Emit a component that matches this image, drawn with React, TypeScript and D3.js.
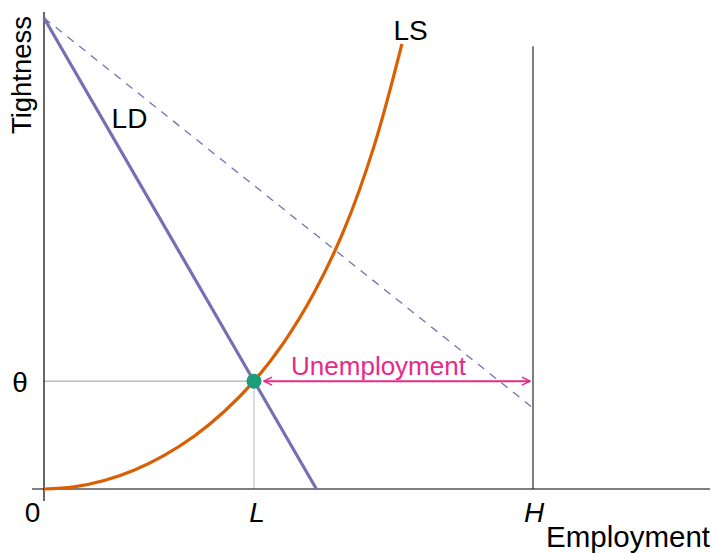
import React from "react";
import * as d3 from "d3";

// Employment axis: 0 .. H=100 ; Tightness axis: 0 .. 1
const H_VALUE = 100;
const L_VALUE = 42.94;
const THETA = 0.229;
const LD_LINE: [number, number][] = [[0, 1], [55.7, 0]];
const LD_DASHED: [number, number][] = [[0, 1], [100, 0.172]];
const LS_CURVE: [number, number][] = [
  [0, 0], [6.1, 0.0045], [12.3, 0.018], [18.4, 0.04], [24.5, 0.071],
  [30.7, 0.112], [36.8, 0.164], [42.94, 0.229], [49.1, 0.312],
  [55.2, 0.416], [61.4, 0.551], [67.5, 0.728], [73.2, 0.945],
];
const X_TICKS = [
  { v: 0, label: "0", italic: false, dx: -11.5 },
  { v: L_VALUE, label: "L", italic: true, dx: 3 },
  { v: H_VALUE, label: "H", italic: true, dx: 1 },
];

const W = 713;
const HGT = 553;
const FONT = "'Liberation Sans', Arial, Helvetica, sans-serif";

export default function App() {
  const x = d3.scaleLinear().domain([0, 100]).range([44, 533]);
  const y = d3.scaleLinear().domain([0, 1]).range([489, 18]);
  const line = d3.line<[number, number]>().x((d) => x(d[0])).y((d) => y(d[1]));
  const lsLine = d3
    .line<[number, number]>()
    .x((d) => x(d[0]))
    .y((d) => y(d[1]))
    .curve(d3.curveCatmullRom);

  const purple = "#7570b3";
  const orange = "#d95f02";
  const green = "#1b9e77";
  const pink = "#e7298a";

  return (
    <svg
      width={W}
      height={HGT}
      style={{ position: "absolute", left: 0, top: 0, background: "#fff" }}
      fontFamily={FONT}
    >
      <defs>
        <marker
          id="arr"
          viewBox="0 0 10 10"
          refX="9"
          refY="5"
          markerWidth="5"
          markerHeight="5"
          orient="auto-start-reverse"
          markerUnits="strokeWidth"
        >
          <path d="M1,1 L9,5 L1,9" fill="none" stroke={pink} strokeWidth={1.6} />
        </marker>
      </defs>

      {/* guide lines */}
      <line x1={x(0)} x2={x(L_VALUE)} y1={y(THETA)} y2={y(THETA)} stroke="#9a9a9a" strokeWidth={1} />
      <line x1={x(L_VALUE)} x2={x(L_VALUE)} y1={y(THETA)} y2={y(0)} stroke="#bbb" strokeWidth={1} />

      {/* H line */}
      <line x1={x(H_VALUE)} x2={x(H_VALUE)} y1={y(0.94)} y2={y(0)} stroke="#000" strokeWidth={1} />

      {/* axes */}
      <line x1={32} x2={710} y1={y(0)} y2={y(0)} stroke="#000" strokeWidth={1.2} />
      <line x1={x(0)} x2={x(0)} y1={12} y2={501} stroke="#000" strokeWidth={1.2} />

      {/* dashed LD */}
      <path d={line(LD_DASHED) || ""} fill="none" stroke={purple} strokeWidth={1.3} strokeDasharray="8,7" />
      {/* LD */}
      <path d={line(LD_LINE) || ""} fill="none" stroke={purple} strokeWidth={3.2} />
      {/* LS */}
      <path d={lsLine(LS_CURVE) || ""} fill="none" stroke={orange} strokeWidth={3.2} />

      {/* Unemployment arrow */}
      <line
        x1={x(L_VALUE) + 10}
        x2={x(H_VALUE) - 3}
        y1={y(THETA)}
        y2={y(THETA)}
        stroke={pink}
        strokeWidth={2}
        markerStart="url(#arr)"
        markerEnd="url(#arr)"
      />
      <text x={378.5} y={375} fill={pink} fontSize={26} textAnchor="middle">Unemployment</text>

      {/* equilibrium point */}
      <circle cx={x(L_VALUE)} cy={y(THETA)} r={7.5} fill={green} />

      {/* labels */}
      <text x={410.5} y={40} fontSize={28} textAnchor="middle" fill="#000">LS</text>
      <text x={129.5} y={128} fontSize={28} textAnchor="middle" fill="#000">LD</text>
      <text x={20} y={392} fontSize={28} textAnchor="middle" fill="#000">θ</text>
      {X_TICKS.map((t) => (
        <text
          key={t.label}
          x={x(t.v) + t.dx}
          y={522}
          fontSize={28}
          textAnchor="middle"
          fontStyle={t.italic ? "italic" : "normal"}
          fill="#000"
        >
          {t.label}
        </text>
      ))}
      <text x={710} y={547} fontSize={29.5} textAnchor="end" fill="#000">Employment</text>
      <text
        transform="translate(31,75) rotate(-90)"
        fontSize={27.5}
        textAnchor="middle"
        fill="#000"
      >
        Tightness
      </text>
    </svg>
  );
}
